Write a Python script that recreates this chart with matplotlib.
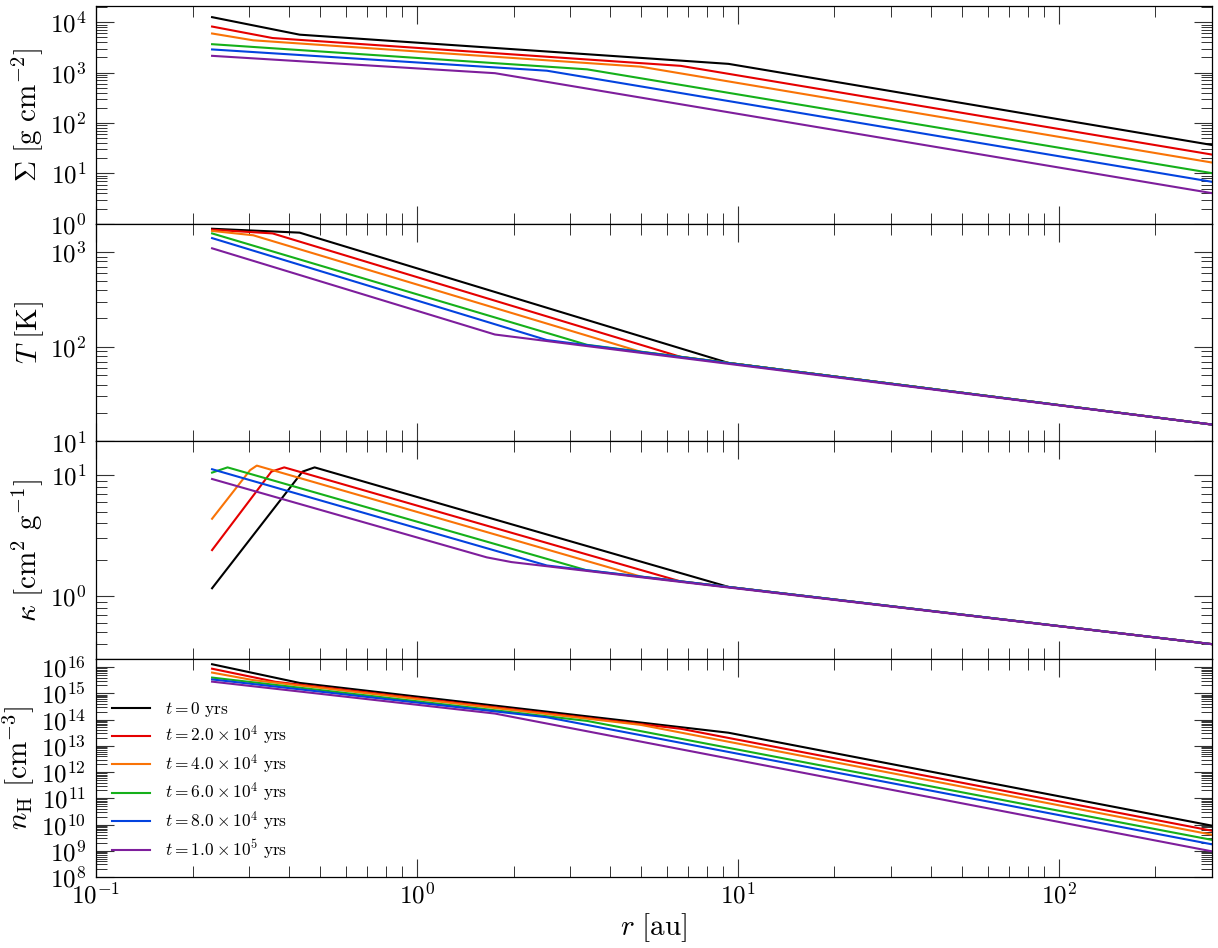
import numpy as np
import matplotlib
matplotlib.use('Agg')
import matplotlib.pyplot as plt
from matplotlib.ticker import LogLocator, NullFormatter

plt.rcParams['mathtext.fontset'] = 'cm'
plt.rcParams['font.family'] = 'serif'
plt.rcParams['font.serif'] = ['cmr10', 'DejaVu Serif']
plt.rcParams['axes.formatter.use_mathtext'] = True

# time labels and colours for the six snapshots
times = [r'$t = 0\ \mathrm{yrs}$',
         r'$t = 2.0 \times 10^{4}\ \mathrm{yrs}$',
         r'$t = 4.0 \times 10^{4}\ \mathrm{yrs}$',
         r'$t = 6.0 \times 10^{4}\ \mathrm{yrs}$',
         r'$t = 8.0 \times 10^{4}\ \mathrm{yrs}$',
         r'$t = 1.0 \times 10^{5}\ \mathrm{yrs}$']
colors = ['k', '#e50000', '#f97306', '#15b01a', '#0343df', '#7e1e9c']

# surface density [g cm^-2] (broken power laws, read at the break radii)
sigma_r = [[0.23, 0.431, 9.35, 300],
           [0.23, 0.355, 6.64, 300],
           [0.23, 0.309, 4.98, 300],
           [0.23, 3.39, 300],
           [0.23, 2.54, 300],
           [0.23, 1.75, 300]]
sigma_v = [[12600, 5660, 1490, 36.6],
           [8200, 4850, 1360, 23.6],
           [5970, 4370, 1310, 16.4],
           [3660, 1160, 10.1],
           [2880, 1090, 6.8],
           [2150, 973, 4.05]]

# temperature [K]
temp_r = [[0.23, 0.431, 9.35, 300],
          [0.23, 0.355, 6.64, 300],
          [0.23, 0.309, 4.98, 300],
          [0.23, 3.39, 300],
          [0.23, 2.54, 300],
          [0.23, 1.75, 300]]
temp_v = [[1770, 1610, 67.6, 15.1],
          [1730, 1580, 78.3, 15.1],
          [1680, 1510, 88.7, 15.1],
          [1580, 105, 15.1],
          [1410, 118, 15.1],
          [1100, 135, 15.1]]

# opacity [cm^2 g^-1]
kappa_r = [[0.23, 0.440, 0.480, 9.35, 300],
           [0.23, 0.352, 0.386, 6.64, 300],
           [0.23, 0.302, 0.317, 4.98, 300],
           [0.23, 0.257, 3.39, 300],
           [0.23, 2.54, 300],
           [0.23, 1.65, 1.97, 300]]
kappa_v = [[1.16, 10.7, 11.6, 1.19, 0.40],
           [2.40, 10.7, 11.6, 1.32, 0.40],
           [4.36, 11.0, 12.0, 1.45, 0.40],
           [10.5, 11.6, 1.63, 0.40],
           [11.2, 1.79, 0.40],
           [9.3, 2.09, 1.91, 0.40]]

# hydrogen number density [cm^-3]
nh_r = [[0.23, 0.431, 9.35, 300],
        [0.23, 0.363, 6.64, 300],
        [0.23, 0.309, 4.98, 300],
        [0.23, 3.39, 300],
        [0.23, 2.54, 300],
        [0.23, 1.75, 300]]
nh_v = [[1.29e16, 2.5e15, 3.16e13, 9.06e9],
        [8.7e15, 2.75e15, 4.47e13, 5.8e9],
        [6.2e15, 3.2e15, 6.3e13, 4.1e9],
        [4.0e15, 8.9e13, 2.6e9],
        [3.4e15, 1.23e14, 1.76e9],
        [2.8e15, 1.7e14, 9.5e8]]

panels = [(sigma_r, sigma_v, r'$\Sigma\ [\mathrm{g\ cm^{-2}}]$', (1, 2.1e4)),
          (temp_r, temp_v, r'$T\ [\mathrm{K}]$', (10, 2000)),
          (kappa_r, kappa_v, r'$\kappa\ [\mathrm{cm^{2}\ g^{-1}}]$', (0.3, 19)),
          (nh_r, nh_v, r'$n_{\mathrm{H}}\ [\mathrm{cm^{-3}}]$', (1e8, 2e16))]

fig, axes = plt.subplots(4, 1, figsize=(12.18, 9.48), dpi=100, sharex=True)
fig.subplots_adjust(left=0.0788, right=0.995, top=0.9937, bottom=0.0749, hspace=0)

for ax, (rr, vv, label, ylim) in zip(axes, panels):
    for i in range(6):
        ax.plot(rr[i], vv[i], color=colors[i], lw=1.5, label=times[i])
    ax.set_xscale('log')
    ax.set_yscale('log')
    ax.set_xlim(0.1, 300)
    ax.set_ylim(*ylim)
    ax.set_ylabel(label, fontsize=21, labelpad=3)
    ax.yaxis.set_major_locator(LogLocator(base=10, numticks=30))
    ax.yaxis.set_minor_locator(LogLocator(base=10, subs=np.arange(2, 10), numticks=30))
    ax.yaxis.set_minor_formatter(NullFormatter())
    ax.tick_params(which='both', direction='in', top=True, right=True,
                   labelsize=18, colors='#333333', labelcolor='k')
    ax.tick_params(which='major', length=13, width=0.8, pad=7)
    ax.tick_params(which='minor', length=8, width=0.7)
    ax.tick_params(axis='x', which='major', pad=4)
    for s in ax.spines.values():
        s.set_linewidth(0.9)

axes[-1].set_xlabel(r'$r\ [\mathrm{au}]$', fontsize=21, labelpad=2)
axes[-1].legend(loc='lower left', bbox_to_anchor=(0.0, 0.0), frameon=False,
                fontsize=12.5, handlelength=2.2, handletextpad=0.9,
                labelspacing=0.3)

plt.savefig('out.png', dpi=100)
